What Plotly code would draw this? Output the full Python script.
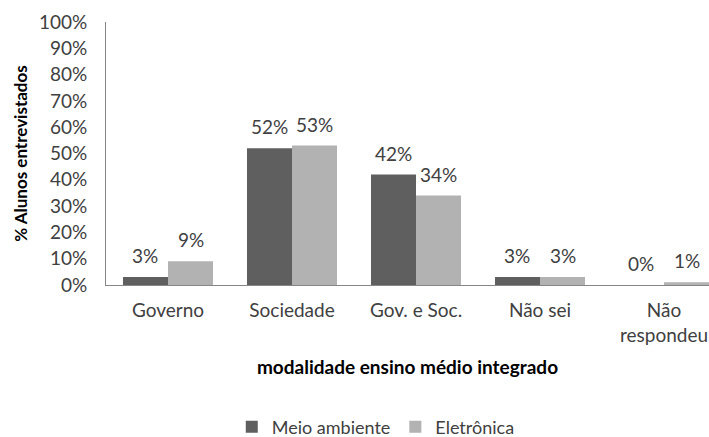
import plotly.graph_objects as go

categories = ["Governo", "Sociedade", "Gov. e Soc.", "Não sei", "Não<br>respondeu"]
meio_ambiente = [0.03, 0.52, 0.42, 0.03, 0.00]
eletronica = [0.09, 0.53, 0.34, 0.03, 0.01]
series_names = ["Meio ambiente", "Eletrônica"]
y_ticks = [i / 10 for i in range(11)]

FONT = "Lato"
TXT = "#404040"
FS = 19
x = list(range(len(categories)))
BARGAP = 0.274
half = (1 - BARGAP) / 4  # offset of each bar centre from category centre

fig = go.Figure()
annotations = []
for k, (name, vals, col) in enumerate([(series_names[0], meio_ambiente, "#5f5f5f"),
                                       (series_names[1], eletronica, "#b2b2b2")]):
    fig.add_trace(go.Bar(
        x=x, y=vals, name=name, marker=dict(color=col, line=dict(width=0)),
    ))
    off = -half if k == 0 else half
    for xi, v in zip(x, vals):
        annotations.append(dict(
            x=xi + off, y=v, xref="x", yref="y", text=f"{round(v*100)}%",
            showarrow=False, yanchor="bottom", xanchor="center", yshift=8,
            font=dict(family=FONT, size=FS, color=TXT),
        ))

fig.update_layout(
    width=709, height=437,
    margin=dict(l=106, r=0, t=22, b=152),
    paper_bgcolor="white", plot_bgcolor="white",
    barmode="group", bargap=BARGAP, bargroupgap=0,
    font=dict(family=FONT, size=FS, color=TXT),
    showlegend=True,
    legend=dict(orientation="h", xref="container", yref="container",
                x=0.53, xanchor="center", y=0.023, yanchor="middle",
                font=dict(family=FONT, size=18, color=TXT), itemwidth=30),
    annotations=annotations,
)
fig.update_xaxes(
    automargin=False,
    range=[-0.5, -0.5 + 603 / 124], tickmode="array", tickvals=x, ticktext=categories,
    showline=True, linecolor="#868686", linewidth=1, showgrid=False, zeroline=False,
    ticks="outside", ticklen=8, tickcolor="rgba(0,0,0,0)",
    tickfont=dict(family=FONT, size=FS, color=TXT),
    title=dict(text="<b>modalidade ensino médio integrado</b>", standoff=16,
               font=dict(family=FONT, size=19, color="#000000")),
)
fig.update_yaxes(
    automargin=False,
    range=[0, 1], tickmode="array", tickvals=y_ticks, tickformat=".0%",
    showline=True, linecolor="#868686", linewidth=1, showgrid=False, zeroline=False,
    ticks="outside", ticklen=14, tickcolor="rgba(0,0,0,0)",
    tickfont=dict(family=FONT, size=FS, color=TXT),
    title=dict(text="<b>% Alunos entrevistados</b>", standoff=6,
               font=dict(family=FONT, size=17, color="#000000")),
)
fig.write_html("out.html")
